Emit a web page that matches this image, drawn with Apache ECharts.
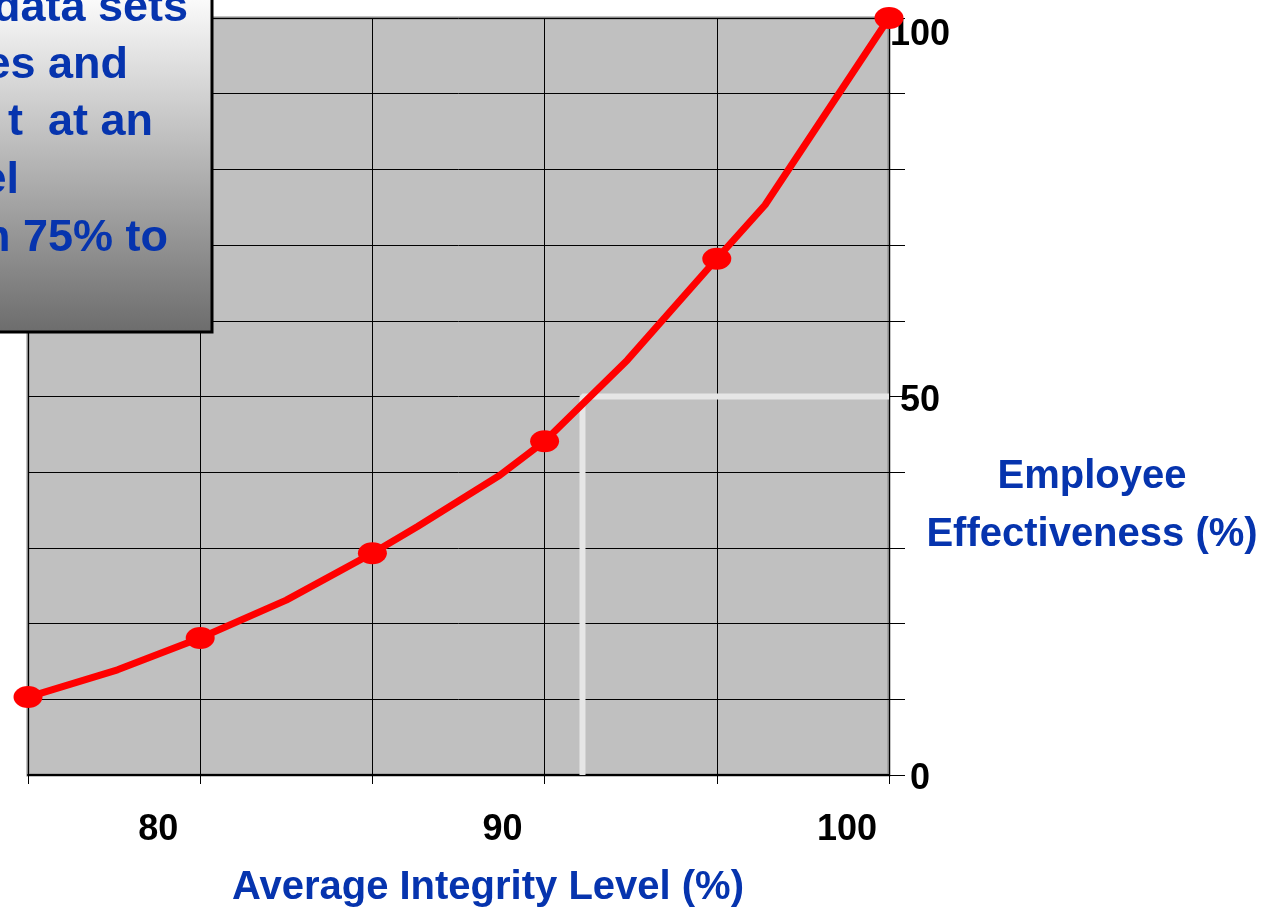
<!DOCTYPE html>
<html>
<head>
<meta charset="utf-8">
<script src="https://cdn.jsdelivr.net/npm/echarts@6/dist/echarts.min.js"></script>
<style>html,body{margin:0;padding:0;background:#fff;}#c{width:1265px;height:907px;}</style>
</head>
<body>
<div id="c"></div>
<script>
// Data
const integrity = [75, 77.6, 80, 82.5, 85, 86.3, 88.7, 90, 92.4, 95, 96.4, 100];
const effectiveness = [10.3, 13.9, 18.1, 23.1, 29.3, 32.8, 39.6, 44.1, 54.8, 68.2, 75.3, 100];
const refX = [91.1, 91.1, 100];
const refY = [0, 50, 50];
const xTickLabels = [80, 90, 100];
const yTickLabels = [0, 50, 100];
const xTitle = 'Average Integrity Level (%)';
const yTitleLines = ['Employee', 'Effectiveness (%)'];
const noteLines = ['data sets', 'es and', 't  at an', 'el', 'from 75% to'];

const FONT = 'Liberation Sans, Arial, sans-serif';
const BLUE = '#0634ae';

const lineData = integrity.map((x, i) => ({
  value: [x, effectiveness[i]],
  symbol: (x % 5 === 0) ? 'circle' : 'none'
}));
const refData = refX.map((x, i) => [x, refY[i]]);

const noteX = [188, 128, 153, 19, 168];
const noteY = [9, 66, 123, 181, 239];

const labelStyle = { color: '#000', fontSize: 36, fontWeight: 'bold', fontFamily: FONT };

const chart = echarts.init(document.getElementById('c'));
chart.setOption({
  animation: false,
  backgroundColor: '#ffffff',
  grid: {
    left: 28, right: 376, top: 18, bottom: 132,
    show: true, backgroundColor: '#c0c0c0', borderColor: '#878787', borderWidth: 3
  },
  xAxis: {
    type: 'value', min: 75, max: 100, interval: 5,
    axisLine: { show: true, lineStyle: { color: '#000', width: 2 } },
    axisTick: { show: true, length: 9, lineStyle: { color: '#000', width: 1 } },
    splitLine: { show: true, lineStyle: { color: '#000', width: 1 } },
    axisLabel: Object.assign({
      margin: 37,
      padding: [0, 84, 0, 0],
      formatter: v => xTickLabels.indexOf(v) >= 0 ? String(v) : ''
    }, labelStyle)
  },
  yAxis: {
    type: 'value', position: 'right', min: 0, max: 100, interval: 10,
    axisLine: { show: false },
    axisTick: { show: true, length: 16, lineStyle: { color: '#000', width: 1 } },
    splitLine: { show: true, lineStyle: { color: '#000', width: 1 } },
    axisLabel: Object.assign({
      margin: 31, align: 'center',
      formatter: v => {
        if (yTickLabels.indexOf(v) < 0) return '';
        return v === 100 ? '{t|' + v + '}' : '{n|' + v + '}';
      },
      rich: {
        t: Object.assign({ padding: [34, 0, 0, 0] }, labelStyle),
        n: Object.assign({ padding: [9, 0, 0, 0] }, labelStyle)
      }
    }, labelStyle)
  },
  series: [
    {
      type: 'line', data: refData, symbol: 'none', silent: true,
      lineStyle: { color: '#e6e6e6', width: 6 }, z: 2
    },
    {
      type: 'line', data: lineData, symbolSize: [29, 22], showSymbol: true,
      itemStyle: { color: '#ff0000' },
      lineStyle: { color: '#ff0000', width: 7 }, z: 3
    }
  ],
  graphic: [
    {
      type: 'rect', z: 100,
      shape: { x: -10, y: -10, width: 222, height: 342 },
      style: {
        fill: new echarts.graphic.LinearGradient(0, 0, 0, 1, [
          { offset: 0, color: '#ffffff' }, { offset: 1, color: '#6c6c6c' }
        ]),
        stroke: '#000', lineWidth: 3
      }
    },
    ...noteLines.map((t, i) => ({
      type: 'text', z: 101, x: noteX[i], y: noteY[i],
      style: { text: t, fill: BLUE, fontSize: 45, fontWeight: 'bold', fontFamily: FONT, align: 'right', verticalAlign: 'middle' }
    })),
    {
      type: 'text', z: 101, x: 488, y: 888,
      style: { text: xTitle, fill: BLUE, fontSize: 40, fontWeight: 'bold', fontFamily: FONT, align: 'center', verticalAlign: 'middle' }
    },
    ...yTitleLines.map((t, i) => ({
      type: 'text', z: 101, x: 1092, y: 477 + i * 58,
      style: { text: t, fill: BLUE, fontSize: 40, fontWeight: 'bold', fontFamily: FONT, align: 'center', verticalAlign: 'middle' }
    }))
  ]
});
</script>
</body>
</html>
